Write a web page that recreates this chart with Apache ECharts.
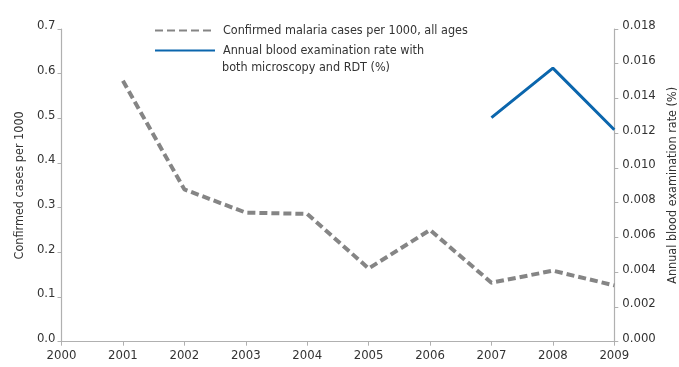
<!DOCTYPE html>
<html><head><meta charset="utf-8">
<script src="https://cdn.jsdelivr.net/npm/echarts@6/dist/echarts.min.js"></script>
<style>html,body{margin:0;padding:0;background:#fff}#c{width:679px;height:367px}</style>
</head><body><div id="c"></div>
<script>
var years = ['2000','2001','2002','2003','2004','2005','2006','2007','2008','2009'];
var casesPer1000 = [null, 0.584, 0.341, 0.289, 0.286, 0.164, 0.250, 0.132, 0.159, 0.126];
var bloodExamRate = [null, null, null, null, null, null, null, 0.0129, 0.01575, 0.0122];
var casesName = 'Confirmed malaria cases per 1000, all ages';
var rateName = 'Annual blood examination rate with';
var rateName2 = 'both microscopy and RDT (%)';
var FONT = '"DejaVu Sans Condensed","Liberation Sans Narrow",sans-serif';
var axisCol = '#b0b0b0';
var chart = echarts.init(document.getElementById('c'));
chart.setOption({
  animation: false,
  textStyle: {fontFamily: FONT},
  grid: {left: 61.5, right: 64.7, top: 29, bottom: 25.3, outerBoundsMode: 'none', containLabel: false},
  legend: {
    orient: 'vertical', left: 149, top: 19, itemWidth: 60, itemHeight: 14, itemGap: 7,
    itemStyle: {opacity: 0},
    textStyle: {fontFamily: FONT, fontSize: 12.5, color: '#333', padding: [0, 0, 0, 3]},
    data: [{name: casesName}, {name: rateName}]
  },
  graphic: [{
    type: 'text', left: 222, top: 61,
    style: {text: rateName2, font: '12.5px ' + FONT, fill: '#333'}
  }],
  xAxis: {
    type: 'category', data: years, boundaryGap: false,
    axisLine: {lineStyle: {color: axisCol, width: 1.2}},
    axisTick: {lineStyle: {color: axisCol}, length: 4},
    axisLabel: {color: '#333', fontSize: 13, fontFamily: FONT, margin: 7}
  },
  yAxis: [{
    type: 'value', min: 0, max: 0.7, interval: 0.1, position: 'left',
    name: 'Confirmed cases per 1000', nameLocation: 'middle', nameGap: 32,
    nameTextStyle: {fontSize: 12.5, color: '#333', fontFamily: FONT},
    axisLine: {show: true, lineStyle: {color: axisCol, width: 1.2}},
    axisTick: {show: true, lineStyle: {color: axisCol}, length: 4},
    splitLine: {show: false},
    axisLabel: {color: '#333', fontSize: 13, fontFamily: FONT, margin: 6,
      verticalAlign: 'bottom', lineHeight: 6,
      formatter: function(v){return v.toFixed(1);}}
  }, {
    type: 'value', min: 0, max: 0.018, interval: 0.002, position: 'right',
    name: 'Annual blood examination rate (%)', nameLocation: 'middle', nameGap: 43,
    nameTextStyle: {fontSize: 12.5, color: '#333', fontFamily: FONT},
    axisLine: {show: true, lineStyle: {color: axisCol, width: 1.2}},
    axisTick: {show: true, lineStyle: {color: axisCol}, length: 4},
    splitLine: {show: false},
    axisLabel: {color: '#333', fontSize: 13, fontFamily: FONT, margin: 8,
      verticalAlign: 'bottom', lineHeight: 6,
      formatter: function(v){return v.toFixed(3);}}
  }],
  series: [{
    name: casesName, type: 'line', yAxisIndex: 0, data: casesPer1000, symbol: 'none',
    itemStyle: {color: '#858585'},
    lineStyle: {color: '#858585', width: 4, type: [8, 4]}
  }, {
    name: rateName, type: 'line', yAxisIndex: 1, data: bloodExamRate, symbol: 'none',
    itemStyle: {color: '#0b66ad'},
    lineStyle: {color: '#0b66ad', width: 3}
  }]
});
</script></body></html>
